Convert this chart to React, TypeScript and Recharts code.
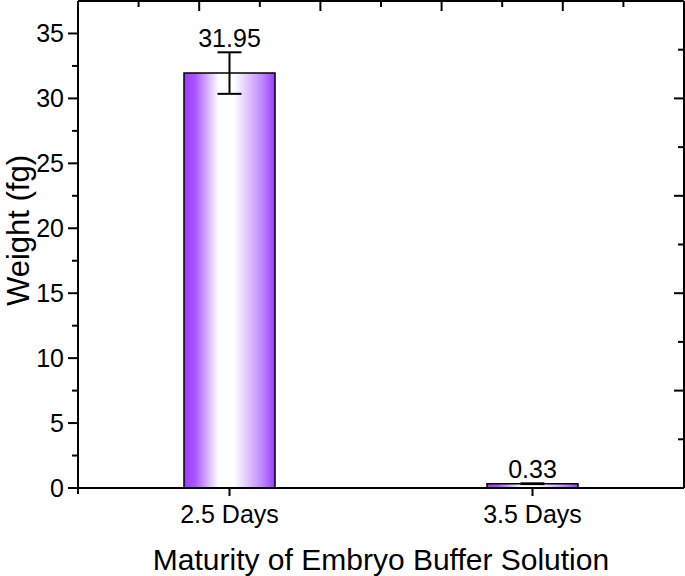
import React from "react";
import {
  ComposedChart,
  Bar,
  Line,
  XAxis,
  YAxis,
  ErrorBar,
  LabelList,
  Label,
} from "recharts";

const categories = ["2.5 Days", "3.5 Days"];
const weights = [31.95, 0.33];
const errors = [1.6, 0.03];

const leftTicks = [0, 2.5, 5, 7.5, 10, 12.5, 15, 17.5, 20, 22.5, 25, 27.5, 30, 32.5, 35];
const rightTicks = [0, 3.75, 7.5, 11.25, 15, 18.75, 22.5, 26.25, 30, 33.75, 37.5];
const topTicks = [0, 0.5, 1, 1.5, 2, 2.5, 3, 3.5, 4, 4.5, 5];
const topSlots = [1.25, 3.75];

const data = categories.map((c, i) => ({
  name: c,
  weight: weights[i],
  err: errors[i],
  top: weights[i] + errors[i],
  slot: topSlots[i],
}));

const FONT = "'Liberation Sans', Arial, sans-serif";

function LeftTick(props: any) {
  const { x, y, payload } = props;
  const major = payload.value % 5 === 0;
  return (
    <g>
      <line x1={x - (major ? 10 : 6)} y1={y} x2={x} y2={y} stroke="#000" strokeWidth={2} />
      {payload.value === 0 && (
        <line x1={x} y1={y} x2={x} y2={y + 6} stroke="#000" strokeWidth={2} />
      )}
      {major && (
        <text
          x={x - 14}
          y={y}
          dy="0.36em"
          textAnchor="end"
          fontSize={25}
          fontFamily={FONT}
          fill="#000"
        >
          {payload.value}
        </text>
      )}
    </g>
  );
}

function RightTick(props: any) {
  const { x, y, payload } = props;
  const major = Math.abs(payload.value / 7.5 - Math.round(payload.value / 7.5)) < 1e-6;
  return <line x1={x - (major ? 10 : 6)} y1={y} x2={x} y2={y} stroke="#000" strokeWidth={2} />;
}

function TopTick(props: any) {
  const { x, y, payload } = props;
  const major = Number.isInteger(payload.value);
  return <line x1={x} y1={y} x2={x} y2={y + (major ? 10 : 6)} stroke="#000" strokeWidth={2} />;
}

export default function App() {
  return (
    <div style={{ position: "absolute", left: 0, top: 0, background: "#fff" }}>
      <ComposedChart
        width={685}
        height={576}
        data={data}
        margin={{ top: 0, right: 0, bottom: 0, left: 0 }}
      >
        <defs>
          <linearGradient id="barGrad" x1="0" y1="0" x2="1" y2="0">
            <stop offset="0%" stopColor="#9b3cff" />
            <stop offset="12%" stopColor="#a855ff" />
            <stop offset="38%" stopColor="#ffffff" />
            <stop offset="55%" stopColor="#ffffff" />
            <stop offset="85%" stopColor="#c08cff" />
            <stop offset="100%" stopColor="#9b3cff" />
          </linearGradient>
        </defs>
        <XAxis
          dataKey="name"
          xAxisId="bottom"
          height={88}
          axisLine={{ stroke: "#000", strokeWidth: 2 }}
          tickLine={{ stroke: "#000", strokeWidth: 2 }}
          tickSize={8}
          tickMargin={9}
          tick={{ fill: "#000", fontSize: 25, fontFamily: FONT }}
        >
          <Label
            value="Maturity of Embryo Buffer Solution"
            position="insideBottom"
            offset={6}
            style={{ fontSize: 30, fontFamily: FONT, fill: "#000" }}
          />
        </XAxis>
        <XAxis
          xAxisId="top"
          dataKey="slot"
          orientation="top"
          type="number"
          domain={[0, 5]}
          ticks={topTicks}
          allowDataOverflow
          interval={0}
          height={1}
          tickSize={0}
          tickMargin={0}
          tickLine={false}
          axisLine={{ stroke: "#000", strokeWidth: 2 }}
          tick={<TopTick />}
        />
        <YAxis
          yAxisId="left"
          width={78}
          domain={[0, 37.5]}
          ticks={leftTicks}
          allowDataOverflow
          interval={0}
          tickSize={0}
          tickMargin={0}
          tickLine={false}
          axisLine={{ stroke: "#000", strokeWidth: 2 }}
          tick={<LeftTick />}
        >
          <Label
            content={(p: any) => {
              const vb = p.viewBox;
              const cx = vb.x + 18;
              const cy = vb.y + vb.height / 2 - 14;
              return (
                <text
                  x={cx}
                  y={cy}
                  transform={`rotate(-90 ${cx} ${cy})`}
                  textAnchor="middle"
                  dy="0.36em"
                  fontSize={31}
                  fontFamily={FONT}
                  fill="#000"
                >
                  Weight (fg)
                </text>
              );
            }}
          />
        </YAxis>
        <YAxis
          yAxisId="right"
          orientation="right"
          width={1}
          domain={[0, 37.5]}
          ticks={rightTicks}
          allowDataOverflow
          interval={0}
          tickSize={0}
          tickMargin={0}
          tickLine={false}
          axisLine={{ stroke: "#000", strokeWidth: 2 }}
          tick={<RightTick />}
        />
        <Bar
          dataKey="weight"
          xAxisId="bottom"
          yAxisId="left"
          barSize={91}
          fill="url(#barGrad)"
          stroke="#000"
          strokeWidth={1.5}
          isAnimationActive={false}
        >
          <ErrorBar
            dataKey="err"
            width={12}
            stroke="#000"
            strokeWidth={2}
            direction="y"
            isAnimationActive={false}
          />
        </Bar>
        <Line
          dataKey="top"
          xAxisId="bottom"
          yAxisId="left"
          stroke="none"
          dot={false}
          activeDot={false}
          isAnimationActive={false}
        >
          <LabelList
            dataKey="weight"
            position="top"
            offset={5}
            style={{ fontSize: 25, fontFamily: FONT, fill: "#000" }}
          />
        </Line>
        <Line
          dataKey="weight"
          xAxisId="top"
          yAxisId="right"
          stroke="none"
          dot={false}
          activeDot={false}
          legendType="none"
          isAnimationActive={false}
        />
      </ComposedChart>
    </div>
  );
}
